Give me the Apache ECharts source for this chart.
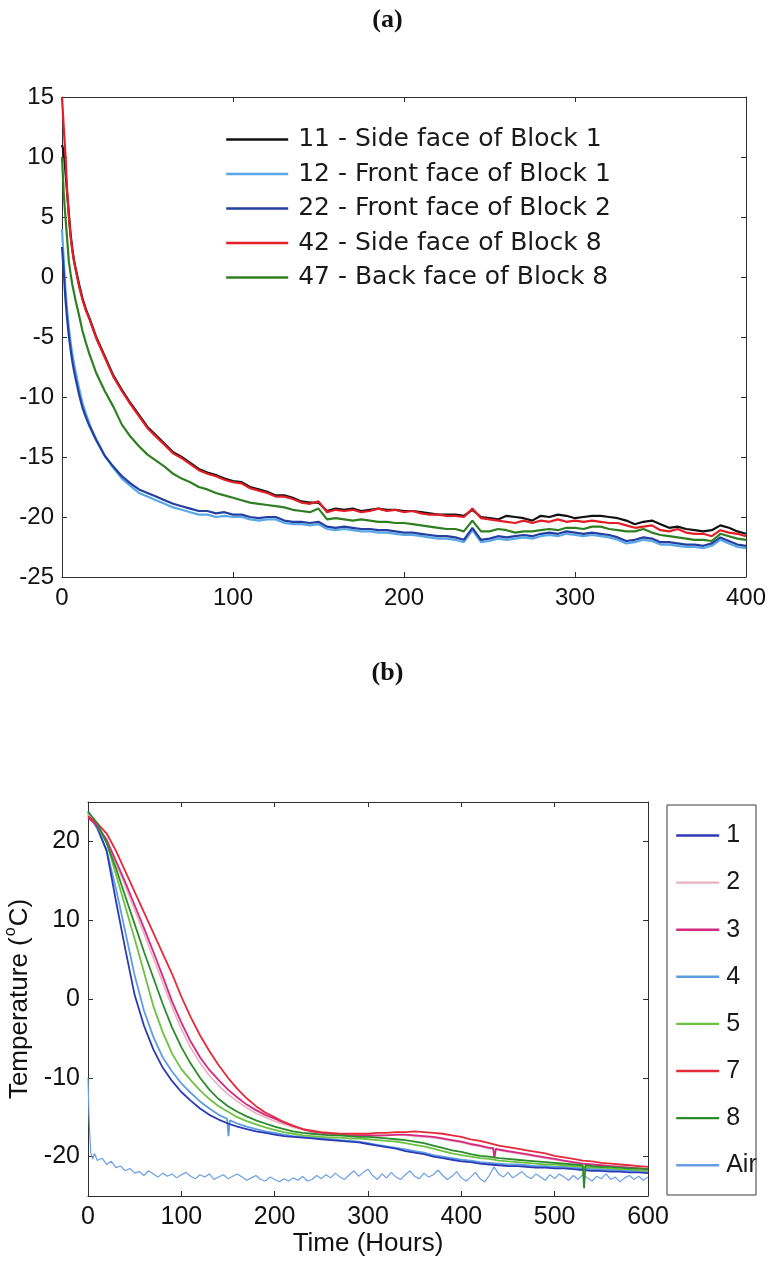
<!DOCTYPE html>
<html>
<head>
<meta charset="utf-8">
<script src="https://cdn.jsdelivr.net/npm/echarts@6/dist/echarts.min.js"></script>
<style>
  html, body { margin: 0; padding: 0; background: #ffffff; }
  #chart { width: 775px; height: 1263px; }
</style>
</head>
<body>
<div id="chart"></div>
<script>
// ---------- Panel (a): surface temperatures of blocks, first 400 h ----------
const hoursA = [0, 1, 2, 3, 4, 5, 6, 7, 8, 10, 12, 14, 16, 18, 20,
  25, 30, 35, 40, 45, 50, 55, 60, 65, 70,
  75, 80, 85, 90, 95, 100, 105, 110, 115, 120,
  125, 130, 135, 140, 145, 150, 155, 160, 165, 170,
  175, 180, 185, 190, 195, 200, 205, 210, 215, 220,
  225, 230, 235, 240, 245, 250, 255, 260, 265, 270,
  275, 280, 285, 290, 295, 300, 305, 310, 315, 320,
  325, 330, 335, 340, 345, 350, 355, 360, 365, 370,
  375, 380, 385, 390, 395, 400];

const sensor11 = [11.0, 10.5, 8.8, 7.0, 5.3, 3.6, 2.4, 1.4, 0.7, -0.6, -1.8, -2.7, -3.4, -4.2, -5.0,
  -6.6, -8.2, -9.4, -10.5, -11.5, -12.5, -13.2, -13.9, -14.6, -15.0,
  -15.5, -16.0, -16.3, -16.5, -16.8, -17.0, -17.1, -17.5, -17.7, -17.9,
  -18.2, -18.2, -18.4, -18.7, -18.8, -18.8, -19.5, -19.3, -19.4, -19.3,
  -19.5, -19.4, -19.3, -19.4, -19.4, -19.5, -19.5, -19.6, -19.7, -19.8,
  -19.8, -19.8, -19.9, -19.4, -20.0, -20.1, -20.2, -19.9, -20.0, -20.1,
  -20.3, -19.9, -20.0, -19.8, -19.9, -20.1, -20.0, -19.9, -19.9, -20.0,
  -20.1, -20.3, -20.6, -20.4, -20.3, -20.6, -20.9, -20.8, -21.0, -21.1,
  -21.2, -21.1, -20.7, -20.9, -21.2, -21.4];

const sensor12 = [4.0, 1.5, -1.0, -2.8, -4.2, -5.4, -6.4, -7.2, -7.9, -9.3, -10.5, -11.4, -12.2, -12.9, -13.5,
  -14.9, -15.9, -16.8, -17.4, -18.0, -18.3, -18.6, -18.9, -19.2, -19.4,
  -19.6, -19.8, -19.8, -20.0, -19.9, -20.0, -20.0, -20.2, -20.3, -20.2,
  -20.2, -20.5, -20.6, -20.6, -20.7, -20.6, -21.0, -21.1, -21.0, -21.1,
  -21.2, -21.2, -21.3, -21.3, -21.4, -21.5, -21.5, -21.6, -21.7, -21.8,
  -21.8, -21.9, -22.1, -21.1, -22.1, -22.0, -21.8, -21.9, -21.8, -21.7,
  -21.8, -21.6, -21.5, -21.6, -21.4, -21.5, -21.6, -21.5, -21.6, -21.7,
  -21.9, -22.2, -22.1, -21.9, -22.0, -22.3, -22.3, -22.4, -22.5, -22.5,
  -22.6, -22.4, -21.9, -22.2, -22.5, -22.6];

const sensor22 = [2.5, 0.5, -1.8, -3.5, -4.9, -6.0, -7.0, -7.8, -8.5, -9.8, -10.9, -11.7, -12.4, -13.0, -13.6,
  -14.9, -15.8, -16.6, -17.2, -17.7, -18.0, -18.3, -18.6, -18.9, -19.1,
  -19.3, -19.5, -19.5, -19.7, -19.6, -19.8, -19.8, -20.0, -20.1, -20.0,
  -20.0, -20.3, -20.4, -20.4, -20.5, -20.4, -20.8, -20.9, -20.8, -20.9,
  -21.0, -21.0, -21.1, -21.1, -21.2, -21.3, -21.3, -21.4, -21.5, -21.6,
  -21.6, -21.7, -21.9, -20.9, -21.9, -21.8, -21.6, -21.7, -21.6, -21.5,
  -21.6, -21.4, -21.3, -21.4, -21.2, -21.3, -21.4, -21.3, -21.4, -21.5,
  -21.7, -22.0, -21.9, -21.7, -21.8, -22.1, -22.1, -22.2, -22.3, -22.3,
  -22.4, -22.2, -21.7, -22.0, -22.3, -22.4];

const sensor42 = [15.0, 12.5, 10.2, 7.2, 5.0, 3.4, 2.2, 1.3, 0.6, -0.8, -1.9, -2.8, -3.5, -4.3, -5.1,
  -6.7, -8.3, -9.5, -10.6, -11.6, -12.6, -13.3, -14.0, -14.7, -15.1,
  -15.6, -16.1, -16.4, -16.6, -16.9, -17.1, -17.2, -17.6, -17.8, -18.0,
  -18.3, -18.3, -18.5, -18.8, -18.9, -18.7, -19.6, -19.4, -19.5, -19.4,
  -19.6, -19.5, -19.3, -19.5, -19.4, -19.6, -19.5, -19.7, -19.8, -19.8,
  -19.9, -19.9, -20.0, -19.3, -20.1, -20.2, -20.3, -20.4, -20.5, -20.3,
  -20.5, -20.3, -20.4, -20.2, -20.4, -20.3, -20.4, -20.3, -20.4, -20.5,
  -20.5, -20.7, -20.9, -20.8, -20.7, -21.1, -21.2, -21.0, -21.3, -21.4,
  -21.4, -21.6, -21.1, -21.3, -21.4, -21.6];

const sensor47 = [10.0, 7.0, 5.0, 3.2, 1.3, 0.3, -0.6, -1.3, -2.0, -3.2, -4.5, -5.5, -6.4, -7.2, -8.0,
  -9.5, -10.8, -12.3, -13.3, -14.1, -14.8, -15.3, -15.8, -16.4, -16.8,
  -17.1, -17.5, -17.7, -18.0, -18.2, -18.4, -18.6, -18.8, -18.9, -19.0,
  -19.1, -19.2, -19.4, -19.5, -19.6, -19.3, -20.2, -20.1, -20.2, -20.3,
  -20.2, -20.3, -20.4, -20.4, -20.5, -20.5, -20.6, -20.7, -20.8, -20.9,
  -21.0, -21.0, -21.2, -20.3, -21.2, -21.2, -21.0, -21.1, -21.3, -21.2,
  -21.2, -21.1, -21.0, -21.1, -20.9, -20.9, -21.0, -20.8, -20.8, -21.0,
  -21.1, -21.2, -21.2, -21.0, -21.3, -21.5, -21.6, -21.7, -21.8, -21.9,
  -21.9, -22.0, -21.4, -21.6, -21.8, -21.9];

const labelsA = ['11 - Side face of Block 1', '12 - Front face of Block 1',
  '22 - Front face of Block 2', '42 - Side face of Block 8', '47 - Back face of Block 8'];

// ---------- Panel (b): block temperatures and air, 600 h ----------
const hoursB = [0, 10, 20, 30, 40, 50, 60, 70, 80, 90,
  100, 110, 120, 130, 140, 150, 160, 170, 180, 190,
  200, 210, 220, 230, 240, 250, 260, 270, 280, 290,
  300, 310, 320, 330, 340, 350, 360, 370, 380, 390,
  400, 410, 420, 430, 440, 450, 460, 470, 480, 490,
  500, 510, 520, 530, 540, 550, 560, 570, 580, 590, 600];

const block1 = [23.8, 21.8, 18.8, 12.4, 6.3, 0.5, -3.4, -6.4, -8.7, -10.4,
  -11.8, -12.9, -13.9, -14.7, -15.3, -15.8, -16.2, -16.5, -16.8, -17.0,
  -17.2, -17.4, -17.5, -17.6, -17.7, -17.8, -17.9, -18.0, -18.1, -18.2,
  -18.4, -18.6, -18.8, -19.0, -19.3, -19.5, -19.7, -20.0, -20.2, -20.4,
  -20.6, -20.7, -20.9, -21.0, -21.1, -21.2, -21.2, -21.3, -21.4, -21.4,
  -21.5, -21.5, -21.6, -21.7, -21.8, -21.8, -21.9, -21.9, -22.0, -22.0, -22.1];

const block2 = [23.4, 22.1, 20.0, 17.2, 14.3, 11.3, 8.3, 5.2, 2.1, -1.0,
  -3.8, -6.2, -8.1, -9.7, -11.0, -12.1, -13.0, -13.8, -14.5, -15.0,
  -15.5, -15.9, -16.3, -16.6, -16.9, -17.1, -17.2, -17.3, -17.4, -17.4,
  -17.4, -17.4, -17.3, -17.3, -17.3, -17.4, -17.5, -17.6, -17.8, -18.0,
  -18.2, -18.5, -18.7, -19.0, -19.2, -19.4, -19.6, -19.8, -20.0, -20.2,
  -20.4, -20.6, -20.8, -20.9, -21.0, -21.1, -21.2, -21.3, -21.4, -21.5, -21.6];

const block3 = [23.0, 22.0, 20.2, 17.5, 14.8, 11.9, 9.0, 6.0, 2.9, -0.3,
  -3.0, -5.4, -7.4, -9.0, -10.3, -11.5, -12.5, -13.4, -14.1, -14.7,
  -15.2, -15.7, -16.1, -16.5, -16.8, -17.0, -17.1, -17.2, -17.3, -17.3,
  -17.3, -17.3, -17.3, -17.2, -17.2, -17.3, -17.4, -17.5, -17.7, -17.9,
  -18.1, -18.4, -18.6, -18.9, -19.1, -19.3, -19.5, -19.7, -19.9, -20.1,
  -20.3, -20.5, -20.7, -20.9, -21.0, -21.1, -21.2, -21.3, -21.4, -21.5, -21.6];

const block4 = [23.5, 21.6, 18.8, 14.0, 8.5, 3.0, -1.5, -4.8, -7.4, -9.2,
  -10.7, -11.9, -13.0, -13.9, -14.7, -15.3, -15.8, -16.2, -16.5, -16.8,
  -17.0, -17.2, -17.4, -17.5, -17.6, -17.7, -17.8, -17.9, -18.0, -18.1,
  -18.3, -18.5, -18.7, -18.9, -19.1, -19.3, -19.5, -19.8, -20.0, -20.2,
  -20.4, -20.5, -20.7, -20.8, -20.9, -21.0, -21.0, -21.1, -21.2, -21.2,
  -21.3, -21.3, -21.4, -21.5, -21.6, -21.6, -21.7, -21.7, -21.8, -21.8, -21.9];

const block5 = [23.5, 22.0, 19.8, 15.8, 11.7, 7.6, 3.4, -0.9, -4.2, -6.9,
  -8.9, -10.3, -11.6, -12.7, -13.6, -14.3, -15.0, -15.5, -15.9, -16.3,
  -16.6, -16.9, -17.1, -17.3, -17.4, -17.5, -17.6, -17.6, -17.7, -17.7,
  -17.8, -17.9, -18.0, -18.1, -18.3, -18.5, -18.7, -19.0, -19.3, -19.6,
  -19.8, -20.0, -20.2, -20.3, -20.5, -20.6, -20.7, -20.8, -20.9, -21.0,
  -21.0, -21.1, -21.2, -21.3, -21.4, -21.4, -21.5, -21.6, -21.6, -21.7, -21.8];

const block7 = [23.2, 22.3, 21.0, 18.8, 16.2, 13.6, 11.0, 8.4, 5.8, 3.2,
  0.3, -2.3, -4.6, -6.6, -8.4, -10.0, -11.4, -12.6, -13.6, -14.4,
  -15.0, -15.6, -16.1, -16.5, -16.7, -16.9, -17.0, -17.1, -17.1, -17.1,
  -17.1, -17.0, -17.0, -16.9, -16.9, -16.8, -16.9, -17.0, -17.1, -17.3,
  -17.5, -17.8, -18.0, -18.3, -18.6, -18.8, -19.0, -19.2, -19.4, -19.6,
  -19.9, -20.1, -20.3, -20.5, -20.6, -20.8, -20.9, -21.0, -21.1, -21.2, -21.3];

const block8 = [23.8, 22.3, 19.8, 16.6, 13.0, 9.5, 6.0, 2.7, -0.6, -3.6,
  -6.1, -8.2, -10.0, -11.5, -12.7, -13.6, -14.3, -14.9, -15.4, -15.8,
  -16.2, -16.5, -16.8, -17.0, -17.1, -17.2, -17.3, -17.3, -17.4, -17.5,
  -17.5, -17.6, -17.7, -17.8, -17.9, -18.1, -18.3, -18.6, -18.9, -19.2,
  -19.4, -19.7, -19.9, -20.0, -20.2, -20.3, -20.4, -20.5, -20.6, -20.7,
  -20.8, -20.9, -21.0, -21.1, -21.2, -21.3, -21.3, -21.4, -21.5, -21.5, -21.6];

// short single-reading glitches in the logged block data: [hour, temperature]
const glitch3 = [[434, -18.9], [435.5, -20.2], [437, -19.0]];
const glitch4 = [[149, -15.2], [150.5, -17.4], [152, -15.4]];
const glitch8 = [[530, -21.1], [531.5, -24.0], [533, -21.1]];

const hoursAir = [0, 1, 2, 3, 5, 7, 10,
  15, 20, 25, 30, 35, 40, 45, 50, 55, 60,
  65, 70, 75, 80, 85, 90, 95, 100, 105, 110,
  115, 120, 125, 130, 135, 140, 145, 150, 155, 160,
  165, 170, 175, 180, 185, 190, 195, 200, 205, 210,
  215, 220, 225, 230, 235, 240, 245, 250, 255, 260,
  265, 270, 275, 280, 285, 290, 295, 300, 305, 310,
  315, 320, 325, 330, 335, 340, 345, 350, 355, 360,
  365, 370, 375, 380, 385, 390, 395, 400, 405, 410,
  415, 420, 425, 430, 435, 440, 445, 450, 455, 460,
  465, 470, 475, 480, 485, 490, 495, 500, 505, 510,
  515, 520, 525, 530, 535, 540, 545, 550, 555, 560,
  565, 570, 575, 580, 585, 590, 595, 600];

const airTemp = [-10.0, -14.5, -17.5, -19.5, -20.3, -19.6, -20.5,
  -20.2, -21.0, -20.6, -21.4, -21.2, -21.8, -21.5, -22.1, -21.9, -22.4,
  -21.8, -22.2, -22.6, -22.1, -22.5, -22.2, -22.7, -22.3, -22.0, -22.5,
  -22.8, -22.3, -22.6, -22.2, -22.9, -22.6, -22.3, -22.8, -22.5, -22.2,
  -22.6, -23.0, -22.7, -22.4, -22.9, -23.1, -22.6, -22.9, -23.2, -22.8,
  -23.1, -22.7, -23.0, -22.5, -23.1, -22.9, -22.4, -22.8, -22.3, -22.7,
  -22.1, -22.6, -22.9, -22.3, -21.8, -22.5, -22.0, -21.6, -22.4, -22.9,
  -22.2, -22.7, -22.0, -22.6, -22.9, -22.3, -21.8, -22.5, -22.8, -22.1,
  -22.6, -22.3, -21.7, -22.4, -22.9, -22.5, -21.9, -22.7, -23.1, -22.6,
  -22.0, -22.8, -23.2, -22.4, -21.3, -22.2, -22.6, -22.0, -22.7, -22.3,
  -21.9, -22.5, -22.8, -22.2, -22.6, -23.0, -22.3, -22.8, -22.2, -22.6,
  -23.0, -22.4, -22.9, -22.3, -22.7, -23.1, -22.5, -22.8, -22.2, -22.9,
  -22.6, -23.2, -22.7, -22.4, -22.9, -22.5, -23.0, -22.6];

const labelsB = ['1', '2', '3', '4', '5', '7', '8', 'Air'];
const tempTicksB = [-20, -10, 0, 10, 20];

// ---------- shared styling ----------
const SANS = '"Liberation Sans", Arial, sans-serif';
const WIDE_SANS = '"DejaVu Sans", Verdana, sans-serif';
const SERIF = '"Liberation Serif", "Times New Roman", serif';
const FRAME = '#2e2e2e';

function pairs(xs, ys, extra) {
  const pts = xs.map(function (x, i) { return [x, ys[i]]; });
  if (extra) {
    extra.forEach(function (p) { pts.push(p); });
    pts.sort(function (a, b) { return a[0] - b[0]; });
  }
  return pts;
}

function lineSeries(name, data, color, width, xIdx, yIdx) {
  return {
    name: name, type: 'line', data: data,
    xAxisIndex: xIdx, yAxisIndex: yIdx,
    symbol: 'none', showSymbol: false, smooth: false,
    lineStyle: { color: color, width: width },
    itemStyle: { color: color },
    emphasis: { disabled: true },
    animation: false, clip: true
  };
}

// one side of the boxed frame: either labelled or a bare mirror with inward ticks
function frameAxis(extra, labelled, fontSize) {
  const base = {
    type: 'value',
    axisLine: { show: true, onZero: false, lineStyle: { color: FRAME, width: 1 } },
    axisTick: { show: true, inside: true, length: 5, lineStyle: { color: FRAME, width: 1 } },
    axisLabel: labelled
      ? { show: true, color: '#111', fontSize: fontSize, fontFamily: SANS, margin: 8 }
      : { show: false },
    splitLine: { show: false }
  };
  return Object.assign(base, extra);
}

const chart = echarts.init(document.getElementById('chart'), null, { renderer: 'canvas' });

const option = {
  backgroundColor: '#ffffff',
  animation: false,
  title: [
    { text: '(a)', left: 'center', top: 7, padding: 0,
      textStyle: { fontFamily: SERIF, fontWeight: 'bold', fontSize: 26, color: '#111' } },
    { text: '(b)', left: 'center', top: 660, padding: 0,
      textStyle: { fontFamily: SERIF, fontWeight: 'bold', fontSize: 26, color: '#111' } }
  ],
  grid: [
    { left: 62, top: 97, width: 684, height: 480, containLabel: false, outerBoundsMode: 'none' },
    { left: 88, top: 802, width: 560, height: 394, containLabel: false, outerBoundsMode: 'none' }
  ],
  xAxis: [
    frameAxis({ gridIndex: 0, position: 'bottom', min: 0, max: 400, interval: 100,
      axisLabel: { color: '#111', fontSize: 24, fontFamily: SANS, margin: 9 } }, true, 24),
    frameAxis({ gridIndex: 0, position: 'top', min: 0, max: 400, interval: 100 }, false),
    frameAxis({ gridIndex: 1, position: 'bottom', min: 0, max: 600, interval: 100,
      axisLabel: { color: '#111', fontSize: 25, fontFamily: SANS, margin: 9 },
      name: 'Time (Hours)', nameLocation: 'middle', nameGap: 33,
      nameTextStyle: { color: '#111', fontSize: 26, fontFamily: SANS } }, true, 25),
    frameAxis({ gridIndex: 1, position: 'top', min: 0, max: 600, interval: 100 }, false)
  ],
  yAxis: [
    frameAxis({ gridIndex: 0, position: 'left', min: -25, max: 15, interval: 5 }, true, 24),
    frameAxis({ gridIndex: 0, position: 'right', min: -25, max: 15, interval: 5 }, false),
    frameAxis({ gridIndex: 1, position: 'left', min: -25, max: 25,
      axisTick: { show: true, inside: true, length: 5, customValues: tempTicksB, lineStyle: { color: FRAME, width: 1 } },
      axisLabel: { show: true, color: '#111', fontSize: 25, fontFamily: SANS, margin: 8, customValues: tempTicksB },
      name: '{t|Temperature (}{s|o}{t|C)}', nameLocation: 'middle', nameGap: 51, nameRotate: 90,
      nameTextStyle: { color: '#111', fontSize: 26, fontFamily: SANS,
        rich: {
          t: { fontSize: 26, fontFamily: SANS, color: '#111', lineHeight: 30, verticalAlign: 'bottom' },
          s: { fontSize: 16, fontFamily: SANS, color: '#111', lineHeight: 30, verticalAlign: 'top', padding: [0, 1, 0, 1] }
        } } }, true, 25),
    frameAxis({ gridIndex: 1, position: 'right', min: -25, max: 25,
      axisTick: { show: true, inside: true, length: 5, customValues: tempTicksB, lineStyle: { color: FRAME, width: 1 } } }, false)
  ],
  legend: [
    { data: labelsA, orient: 'vertical', left: 225, top: 127, padding: 0,
      itemWidth: 62, itemHeight: 14, itemGap: 9.5,
      selectedMode: false, itemStyle: { opacity: 0 }, lineStyle: { width: 2.4 },
      textStyle: { color: '#1a1a1a', fontSize: 25, fontFamily: WIDE_SANS, lineHeight: 25, padding: [0, 0, 0, 5] } },
    { data: labelsB, orient: 'vertical', left: 675, top: 823, padding: 0,
      itemWidth: 43, itemHeight: 14, itemGap: 22.1,
      selectedMode: false, itemStyle: { opacity: 0 }, lineStyle: { width: 2.4 },
      textStyle: { color: '#1a1a1a', fontSize: 25, fontFamily: SANS, lineHeight: 25, padding: [0, 0, 0, 2] } }
  ],
  graphic: [
    { type: 'rect', shape: { x: 667, y: 805, width: 89, height: 390 },
      style: { fill: null, stroke: '#3a3a3a', lineWidth: 1 }, silent: true, z: 10 }
  ],
  series: [
    lineSeries(labelsA[0], pairs(hoursA, sensor11), '#111111', 2.2, 0, 0),
    lineSeries(labelsA[1], pairs(hoursA, sensor12), '#5aa7e8', 2.2, 0, 0),
    lineSeries(labelsA[2], pairs(hoursA, sensor22), '#2340a0', 2.2, 0, 0),
    lineSeries(labelsA[4], pairs(hoursA, sensor47), '#2f7f22', 2.2, 0, 0),
    lineSeries(labelsA[3], pairs(hoursA, sensor42), '#e41e26', 2.2, 0, 0),

    lineSeries(labelsB[7], pairs(hoursAir, airTemp), '#6a9ee3', 1.2, 2, 2),
    lineSeries(labelsB[3], pairs(hoursB, block4, glitch4), '#5e9ee0', 1.8, 2, 2),
    lineSeries(labelsB[0], pairs(hoursB, block1), '#2b3bb5', 1.8, 2, 2),
    lineSeries(labelsB[4], pairs(hoursB, block5), '#6dc23f', 1.8, 2, 2),
    lineSeries(labelsB[1], pairs(hoursB, block2), '#e6b3bf', 1.6, 2, 2),
    lineSeries(labelsB[2], pairs(hoursB, block3, glitch3), '#d42a80', 1.8, 2, 2),
    lineSeries(labelsB[5], pairs(hoursB, block7), '#e52b3a', 1.8, 2, 2),
    lineSeries(labelsB[6], pairs(hoursB, block8, glitch8), '#2c8c2c', 1.8, 2, 2)
  ]
};

chart.setOption(option);
</script>
</body>
</html>
